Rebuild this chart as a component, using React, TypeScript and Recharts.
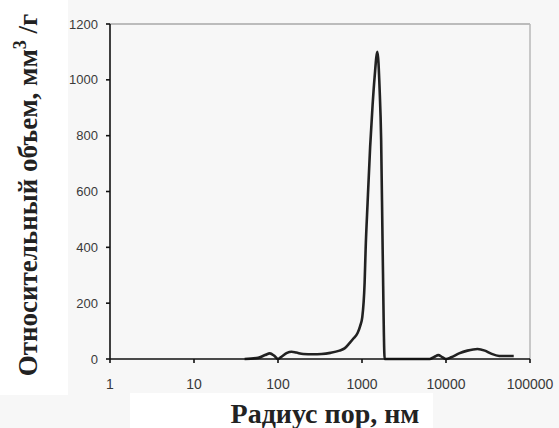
import { LineChart, Line, XAxis, YAxis, ReferenceLine } from 'recharts'

// pore radius, nm (log axis) and relative volume, mm3/g
const radius = [
  40, 58, 70, 80, 90, 100, 112, 128, 145, 165, 200, 260, 330, 420, 540, 620,
  711, 800, 886, 950, 1008, 1074, 1104, 1166, 1250, 1337, 1413, 1524, 1622,
  1690, 1762, 1862, 3000, 5000, 6400, 7300, 8100, 9000, 10000, 11500, 14300,
  18000, 23700, 29000, 34000, 43000, 52000, 64000,
]
const volume = [
  0, 4, 14, 20, 12, 0, 10, 22, 26, 23, 18, 17, 18, 22, 30, 38,
  57, 75, 93, 118, 150, 272, 391, 560, 760, 910, 1010, 1100, 964,
  785, 391, 0, 0, 0, 0, 8, 14, 7, 0, 6, 20,
  30, 36, 30, 20, 11, 11, 11,
]

const xTicks = [1, 10, 100, 1000, 10000, 100000]
const yTicks = [0, 200, 400, 600, 800, 1000, 1200]

const data = radius.map((r, i) => ({ r, v: volume[i] }))

const tickFont = { fontFamily: 'Liberation Sans, Arial', fill: '#3a3a3a' }
const titleFont = 'Liberation Serif, Times New Roman, serif'

function YTitle() {
  return (
    <g>
      <rect x={0} y={0} width={68} height={395} fill="#fff" />
      <text
        transform="translate(37, 195) rotate(-90)"
        textAnchor="middle"
        fontFamily={titleFont}
        fontWeight="bold"
        fontSize={27}
        fill="#222"
      >
        Относительный объем, мм
        <tspan dy={-11} fontSize={18}>3</tspan>
        <tspan dy={11}> /г</tspan>
      </text>
    </g>
  )
}

function XTitle() {
  return (
    <g>
      <rect x={130} y={393} width={303} height={35} fill="#fff" />
      <text
        x={325}
        y={423}
        textAnchor="middle"
        fontFamily={titleFont}
        fontWeight="bold"
        fontSize={28}
        fill="#222"
      >
        Радиус пор, нм
      </text>
    </g>
  )
}

export default function App() {
  return (
    <div style={{ position: 'absolute', left: 0, top: 0, width: 559, height: 428, background: '#f7f7f7' }}>
      <LineChart
        width={559}
        height={428}
        data={data}
        margin={{ top: 24, right: 29, bottom: 0, left: 0 }}
      >
        <XAxis
          dataKey="r"
          type="number"
          scale="log"
          domain={[1, 100000]}
          ticks={xTicks}
          allowDataOverflow
          height={69}
          tickSize={4}
          tickMargin={16}
          stroke="#111"
          strokeWidth={1.6}
          tick={{ ...tickFont, fontSize: 14 }}
          label={{ content: () => <XTitle /> }}
        />
        <YAxis
          type="number"
          domain={[0, 1200]}
          ticks={yTicks}
          width={110}
          tickSize={4}
          tickMargin={8}
          stroke="#111"
          strokeWidth={1.6}
          tick={{ ...tickFont, fontSize: 13 }}
          label={{ content: () => <YTitle /> }}
        />
        <ReferenceLine y={1200} stroke="#a8a8a8" strokeWidth={1.5} />
        <ReferenceLine x={100000} stroke="#b8b8b8" strokeWidth={1.5} />
        <Line
          type="monotone"
          dataKey="v"
          stroke="#222"
          strokeWidth={2.6}
          dot={false}
          isAnimationActive={false}
        />
      </LineChart>
    </div>
  )
}
